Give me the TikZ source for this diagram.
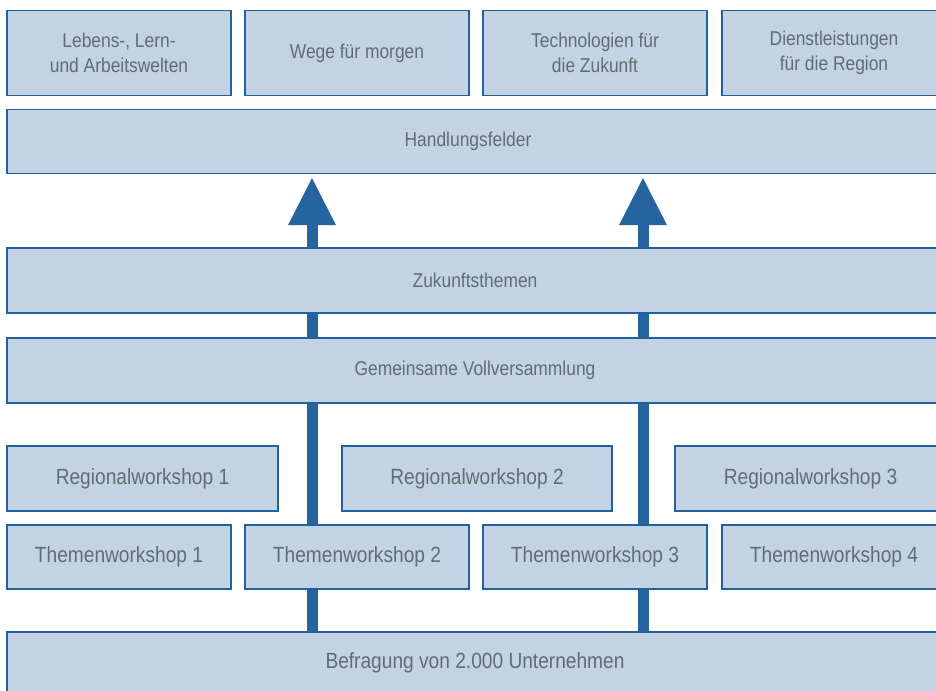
\documentclass[tikz,border=0pt]{standalone}
\usepackage{fontspec}
\setmainfont{Liberation Sans}[FakeStretch=0.87]
\usetikzlibrary{arrows.meta,backgrounds}
\definecolor{boxfill}{HTML}{C3D3E3}
\definecolor{boxline}{HTML}{22609E}
\definecolor{arrowblue}{HTML}{25649E}
\definecolor{textgray}{HTML}{636B73}
\begin{document}
\begin{tikzpicture}[x=1pt,y=-1pt,
  box/.style={draw=boxline, line width=1.2pt, fill=boxfill, inner sep=0pt,
    text=textgray, align=center, font=\fontsize{20}{24.3}\selectfont},
  bigtext/.style={font=\fontsize{22}{26}\selectfont},
  flow/.style={draw=arrowblue, line width=11pt, shorten >=4pt,
    -{Triangle[width=48pt,length=47pt,line width=0pt]}}
]
\path[use as bounding box, clip] (0,0) rectangle (936,690);

% top row
\node[box, minimum width=224pt, minimum height=85pt] (t1) at (119,53) {Lebens-, Lern-\\und Arbeitswelten};
\node[box, minimum width=224pt, minimum height=85pt] (t2) at (357,53) {Wege für morgen};
\node[box, minimum width=224pt, minimum height=85pt] (t3) at (595,53) {Technologien für\\die Zukunft};
\node[box, minimum width=268pt, minimum height=85pt] (t4) at (856,53) {\kern-44pt\begin{tabular}{@{}c@{}}Dienstleistungen\\für die Region\end{tabular}};

\node[box, minimum width=983pt, minimum height=64pt] (hand) at (498.5,141.5) {\kern-61pt Handlungsfelder};
\node[box, minimum width=983pt, minimum height=65pt] (zuk) at (498.5,280.5) {\kern-47pt Zukunftsthemen};
\node[box, minimum width=983pt, minimum height=65pt] (gem) at (498.5,370.5) {\kern-47pt Gemeinsame Vollversammlung};

% regional workshops
\node[box, bigtext, minimum width=271pt, minimum height=65pt] (r1) at (142.5,478.5) {Regionalworkshop 1};
\node[box, bigtext, minimum width=270pt, minimum height=65pt] (r2) at (477,478.5) {Regionalworkshop 2};
\node[box, bigtext, minimum width=315pt, minimum height=65pt] (r3) at (832.5,478.5) {\kern-44pt Regionalworkshop 3};

% thematic workshops
\node[box, bigtext, minimum width=224pt, minimum height=64pt] (w1) at (119,557) {Themenworkshop 1};
\node[box, bigtext, minimum width=224pt, minimum height=64pt] (w2) at (357,557) {Themenworkshop 2};
\node[box, bigtext, minimum width=224pt, minimum height=64pt] (w3) at (595,557) {Themenworkshop 3};
\node[box, bigtext, minimum width=268pt, minimum height=64pt] (w4) at (856,557) {\kern-44pt Themenworkshop 4};

\node[box, bigtext, minimum width=983pt, minimum height=62pt] (bef) at (498.5,663) {\kern-47pt Befragung von 2.000 Unternehmen};

\begin{scope}[on background layer]
  \draw[flow] (bef.north -| 312,0) -- (hand.south -| 312,0);
  \draw[flow] (bef.north -| 643,0) -- (hand.south -| 643,0);
\end{scope}
\end{tikzpicture}
\end{document}
